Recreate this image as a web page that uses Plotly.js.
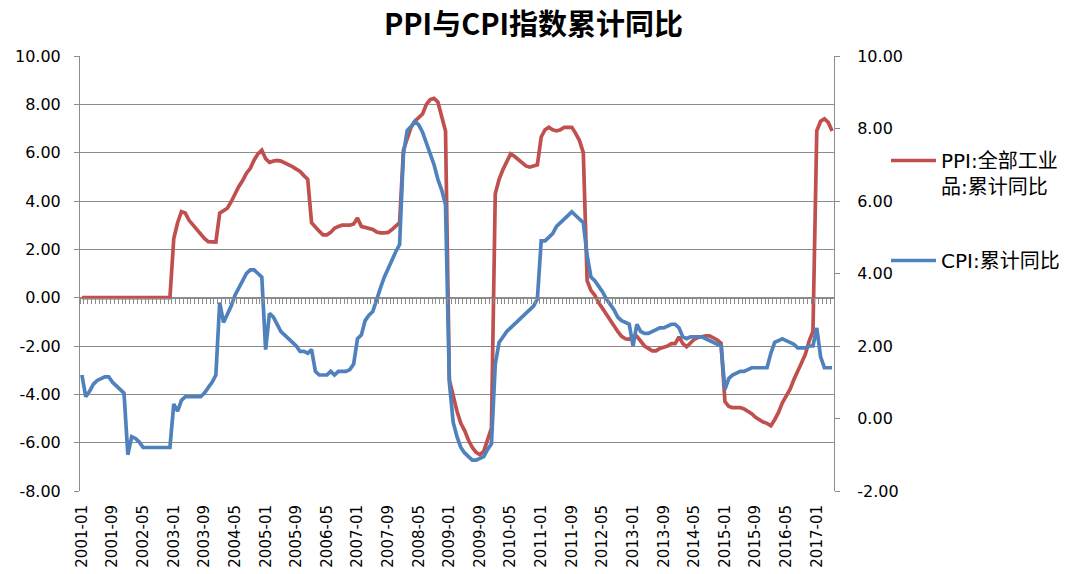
<!DOCTYPE html>
<html><head><meta charset="utf-8">
<script src="https://cdn.plot.ly/plotly-3.0.1.min.js"></script>
<style>html,body{margin:0;padding:0;background:#fff}#chart{width:1067px;height:574px}</style>
</head><body><div id="chart"></div>
<script>
// Categories: monthly, 2001-01 .. 2017-05
const months = [];
for (let y = 2001; y <= 2017; y++) {
  for (let m = 1; m <= 12; m++) {
    if (y === 2017 && m > 5) break;
    months.push(y + '-' + (m < 10 ? '0' + m : m));
  }
}

// PPI: 全部工业品 累计同比 (left axis)
const ppi = [
  0,0,0,0,0,0,0,0,0,0,0,0,
  0,0,0,0,0,0,0,0,0,0,0,0,
  2.45,3.1,3.56,3.5,3.2,3.0,2.8,2.6,2.45,2.32,2.3,2.3,
  3.5,3.6,3.7,3.97,4.3,4.6,4.85,5.15,5.35,5.7,5.95,6.1,
  5.75,5.6,5.65,5.68,5.65,5.58,5.5,5.42,5.32,5.22,5.05,4.9,
  3.1,2.9,2.75,2.6,2.6,2.7,2.87,2.95,3.0,3.0,3.0,3.05,
  3.3,2.95,2.9,2.88,2.82,2.72,2.68,2.68,2.7,2.82,2.95,3.1,
  6.1,6.55,7.05,7.3,7.45,7.6,8.0,8.2,8.25,8.1,7.5,6.9,
  -3.4,-4.1,-4.7,-5.2,-5.5,-5.9,-6.2,-6.4,-6.5,-6.35,-5.9,-5.4,
  4.3,4.9,5.3,5.6,5.95,5.85,5.7,5.55,5.45,5.4,5.45,5.5,
  6.65,6.95,7.05,6.95,6.9,6.95,7.05,7.05,7.05,6.8,6.5,6.0,
  0.7,0.3,0.1,-0.2,-0.45,-0.65,-0.9,-1.15,-1.4,-1.6,-1.7,-1.72,
  -1.6,-1.6,-1.8,-2.0,-2.1,-2.2,-2.2,-2.1,-2.05,-2.0,-1.9,-1.9,
  -1.62,-1.9,-2.03,-1.85,-1.72,-1.65,-1.6,-1.58,-1.58,-1.65,-1.75,-1.88,
  -4.3,-4.5,-4.55,-4.55,-4.55,-4.6,-4.7,-4.8,-4.95,-5.05,-5.15,-5.2,
  -5.3,-5.05,-4.75,-4.35,-4.05,-3.8,-3.4,-3.0,-2.7,-2.35,-1.8,-1.4,
  6.9,7.3,7.4,7.25,6.9
];

// CPI: 累计同比 (right axis)
const cpi = [
  1.2,0.6,0.75,0.95,1.05,1.1,1.15,1.15,1.0,0.9,0.8,0.7,
  -1.0,-0.5,-0.55,-0.65,-0.8,-0.8,-0.8,-0.8,-0.8,-0.8,-0.8,-0.8,
  0.4,0.2,0.5,0.6,0.6,0.6,0.6,0.6,0.7,0.85,1.0,1.2,
  3.2,2.65,2.85,3.1,3.4,3.6,3.85,4.0,4.1,4.1,4.0,3.9,
  1.9,2.9,2.8,2.6,2.4,2.3,2.2,2.1,2.0,1.85,1.85,1.8,
  1.9,1.3,1.2,1.2,1.2,1.3,1.2,1.3,1.3,1.3,1.35,1.5,
  2.2,2.3,2.7,2.85,2.95,3.3,3.6,3.9,4.15,4.4,4.6,4.8,
  7.3,7.95,8.05,8.2,8.1,7.9,7.6,7.3,7.0,6.6,6.3,5.9,
  1.0,-0.1,-0.5,-0.8,-0.95,-1.05,-1.15,-1.15,-1.1,-1.05,-0.85,-0.7,
  1.5,2.1,2.25,2.4,2.5,2.6,2.7,2.8,2.9,3.0,3.1,3.3,
  4.9,4.9,5.0,5.1,5.3,5.4,5.5,5.6,5.7,5.6,5.5,5.4,
  4.5,3.9,3.8,3.65,3.5,3.3,3.15,3.0,2.8,2.7,2.65,2.6,
  2.0,2.6,2.4,2.35,2.35,2.4,2.45,2.5,2.5,2.55,2.6,2.6,
  2.5,2.25,2.2,2.25,2.25,2.25,2.25,2.2,2.15,2.1,2.05,2.0,
  0.8,1.1,1.2,1.25,1.3,1.3,1.35,1.4,1.4,1.4,1.4,1.4,
  1.8,2.1,2.15,2.2,2.15,2.1,2.05,1.95,1.95,1.95,2.0,2.0,
  2.5,1.7,1.4,1.4,1.4
];

const leftTicks = [-8,-6,-4,-2,0,2,4,6,8,10];
const leftLabels = ['-8.00','-6.00','-4.00','-2.00','0.00','2.00','4.00','6.00','8.00','10.00'];
const rightTicks = [-2,0,2,4,6,8,10];
const rightLabels = ['-2.00','0.00','2.00','4.00','6.00','8.00','10.00'];

const seriesNames = ['PPI:全部工业<br>品:累计同比', 'CPI:累计同比'];
const colors = ['#C0504D', '#4F81BD'];

const grey = '#8c8c8c';
const baseFont = 'DejaVu Sans, Noto Sans CJK SC, sans-serif';

const data = [
  {x: months, y: ppi, type: 'scatter', mode: 'lines', name: seriesNames[0],
   line: {color: colors[0], width: 3.7}, xaxis: 'x', yaxis: 'y', legend: 'legend', hoverinfo: 'skip'},
  {x: months, y: cpi, type: 'scatter', mode: 'lines', name: seriesNames[1],
   line: {color: colors[1], width: 3.7}, xaxis: 'x2', yaxis: 'y2', legend: 'legend2', hoverinfo: 'skip'}
];

const layout = {
  width: 1067, height: 574,
  margin: {l: 80, r: 233, t: 56, b: 83},
  paper_bgcolor: '#fff', plot_bgcolor: '#fff',
  font: {family: baseFont, color: '#000'},
  title: {text: 'PPI与CPI指数累计同比', font: {family: 'Noto Sans CJK SC, sans-serif', size: 29, weight: 'bold', color: '#000'},
          xref: 'container', x: 0.5, xanchor: 'center', yref: 'container', y: 1 - 25/574, yanchor: 'middle'},
  showlegend: true,
  xaxis: {type: 'category', range: [-0.5, months.length - 0.5], tickmode: 'linear', tick0: 0, dtick: 8,
          tickangle: -90, ticks: '', showline: false, showgrid: false, zeroline: false,
          tickfont: {size: 15, family: baseFont, color: '#000'}, ticklabelstandoff: 10},
  // category tick marks drawn on the zero line (Excel style axis crossing at 0)
  xaxis2: {type: 'category', overlaying: 'x', anchor: 'free', position: 8/18,
           range: [-0.5, months.length - 0.5], tickmode: 'linear', tick0: 0, dtick: 1, tickson: 'boundaries',
           ticks: 'outside', ticklen: 5, tickcolor: grey, tickwidth: 1, showticklabels: false,
           showline: true, linecolor: grey, linewidth: 1, showgrid: false, zeroline: false},
  yaxis: {range: [-8, 10], tickmode: 'array', tickvals: leftTicks, ticktext: leftLabels,
          showgrid: true, gridcolor: grey, gridwidth: 1, zeroline: false,
          showline: true, linecolor: grey, linewidth: 1, ticks: 'outside', ticklen: 5, tickcolor: grey,
          tickfont: {size: 16, family: baseFont, color: '#000'}, ticklabelstandoff: 10},
  yaxis2: {range: [-2, 10], overlaying: 'y', side: 'right', anchor: 'x', tickmode: 'array', tickvals: rightTicks, ticktext: rightLabels,
           showgrid: false, zeroline: false, showline: true, linecolor: grey, linewidth: 1,
           ticks: 'outside', ticklen: 5, tickcolor: grey,
           tickfont: {size: 16, family: baseFont, color: '#000'}, ticklabelstandoff: 14},
  legend: {xref: 'container', yref: 'container', x: 886 / 1067, xanchor: 'left', y: 1 - 141 / 574, yanchor: 'top',
           font: {size: 20, family: baseFont, color: '#000'}, valign: 'top', bgcolor: 'rgba(0,0,0,0)', itemwidth: 45},
  legend2: {xref: 'container', yref: 'container', x: 886 / 1067, xanchor: 'left', y: 1 - 241 / 574, yanchor: 'top',
           font: {size: 20, family: baseFont, color: '#000'}, valign: 'top', bgcolor: 'rgba(0,0,0,0)', itemwidth: 45}
};

Plotly.newPlot('chart', data, layout, {staticPlot: true, displayModeBar: false});
</script>
</body></html>
